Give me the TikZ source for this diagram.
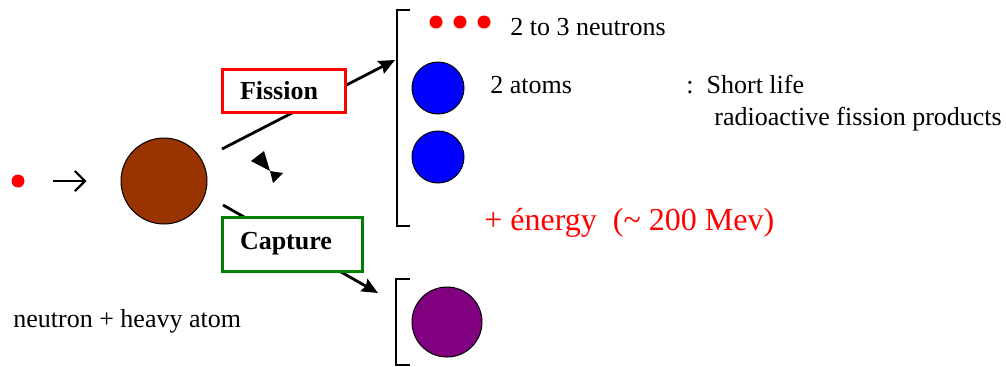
\documentclass[tikz,border=0pt]{standalone}
\usepackage{fontspec}
\setmainfont{Liberation Serif}
\usetikzlibrary{arrows.meta,positioning}
\definecolor{heavybrown}{HTML}{993300}
\definecolor{fragblue}{HTML}{0000FF}
\definecolor{capturepurple}{HTML}{800080}
\definecolor{capturegreen}{HTML}{008000}
\tikzset{
    atom/.style={circle, draw, line width=0.5pt, inner sep=0pt},
    neutron/.style={circle, fill=red, inner sep=0pt, minimum size=6.5pt},
    procbox/.style={draw, line width=1.5pt, fill=white, align=left,
        font=\fontsize{13}{15}\selectfont\bfseries, inner xsep=9pt, inner ysep=0pt},
    procarrow/.style={-{Stealth[length=8pt, width=7pt, inset=1pt]}, line width=1.4pt},
    txt/.style={anchor=base west, inner sep=0pt, font=\fontsize{13}{15}\selectfont},
    bracket/.style={line width=0.7pt}
}

\begin{document}
\begin{tikzpicture}[x=0.5pt, y=-0.5pt]
\useasboundingbox (0,0) rectangle (1006,366);
% incoming neutron and heavy atom
\node[neutron] (inn) at (18,181) {};
\node[atom, fill=heavybrown, minimum size=43pt] (heavy) at (164,181) {};
\draw[-{Straight Barb[length=5pt, width=10pt]}, line width=1.1pt,
    shorten <=14pt, shorten >=17pt] (inn) -- (heavy);
\node[txt] (reactlbl) at (13,327) {neutron + heavy atom};

% two branches
\coordinate (fissstart) at (222,149);
\coordinate (fisstip) at (395,60);
\coordinate (capstart) at (223,205);
\coordinate (captip) at (378,293);
\draw[procarrow] (fissstart) -- (fisstip);
\draw[procarrow] (capstart) -- (captip);
\node[procbox, draw=red, text width=43.5pt, minimum height=21.5pt] (fission) at (283.5,90.5) {Fission};
\node[procbox, draw=capturegreen, text width=52pt, minimum height=27pt] (capture) at (292,244) {Capture};
\fill (251,161) -- (264,151) -- (270,171) -- cycle;
\fill (270,171) -- (283,173) -- (273,183) -- cycle;

% fission products
\draw[bracket] (410,10) -- (397,10) -- (397,226) -- (410,226);
\node[neutron] (n1) at (436,22) {};
\node[neutron] (n2) at (460,22) {};
\node[neutron] (n3) at (484,22) {};
\node[txt] (neutronlbl) at (510,35) {2 to 3 neutrons};
\node[atom, fill=fragblue, minimum size=26pt] (frag1) at (438,88) {};
\node[atom, fill=fragblue, minimum size=26pt] (frag2) at (438,157) {};
\node[txt] (fraglbl) at (490,93) {2 atoms};
\node[txt] (lifelbl) at (686,93) {:~~Short life};
\node[txt] (prodlbl) at (714,125) {radioactive fission products};
\node[txt, text=red, font=\fontsize{16}{19}\selectfont] (energylbl) at (484,230)
    {+ énergy~~(\textasciitilde{} 200 Mev)};

% capture product
\draw[bracket] (410,279) -- (396,279) -- (396,365) -- (410,365);
\node[atom, fill=capturepurple, minimum size=35pt] (heavier) at (447,322) {};
\end{tikzpicture}
\end{document}
